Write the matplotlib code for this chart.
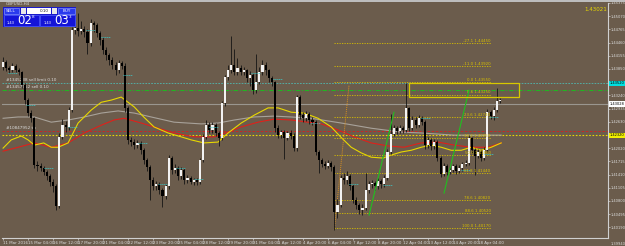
import matplotlib
matplotlib.use("Agg")
import matplotlib.pyplot as plt
from matplotlib.patches import Rectangle
import matplotlib.transforms as mtransforms

# =============================================================================
# DONNEES (GBPUSD H4, lues sur la capture)
# =============================================================================
FIRST_OPEN = 1.4390
CLOSE = [
    1.4401, 1.4387, 1.4382, 1.4392, 1.4382, 1.4378, 1.4348, 1.4313, 1.4283, 1.4271,
    1.4163, 1.4161, 1.4156, 1.4147, 1.4137, 1.4124, 1.4114, 1.4068, 1.4228, 1.4255,
    1.4251, 1.4290, 1.4475, 1.4479, 1.4472, 1.4477, 1.4470, 1.4445, 1.4491, 1.4486,
    1.4468, 1.4452, 1.4429, 1.4417, 1.4405, 1.4394, 1.4382, 1.4398, 1.4392, 1.4294,
    1.4221, 1.4216, 1.4209, 1.4214, 1.4197, 1.4174, 1.4158, 1.4128, 1.4114, 1.4119,
    1.4105, 1.4091, 1.4114, 1.4179, 1.4151, 1.4156, 1.4137, 1.4151, 1.4128, 1.4133,
    1.4124, 1.4128, 1.4124, 1.4174, 1.4228, 1.4255, 1.4244, 1.4255, 1.4237, 1.4225,
    1.4306, 1.4366, 1.4382, 1.4394, 1.4378, 1.4387, 1.4378, 1.4382, 1.4364, 1.4371,
    1.4336, 1.4355, 1.4378, 1.4394, 1.4382, 1.4364, 1.4355, 1.4248, 1.4232, 1.4239,
    1.4225, 1.4237, 1.4230, 1.4202, 1.4320, 1.4278, 1.4271, 1.4281, 1.4267, 1.4262,
    1.4193, 1.4174, 1.4165, 1.4161, 1.4168, 1.4158, 1.4054, 1.4070, 1.4133, 1.4128,
    1.4137, 1.4114, 1.4082, 1.4070, 1.4059, 1.4064, 1.4105, 1.4119, 1.4121, 1.4114,
    1.4126, 1.4119, 1.4133, 1.4193, 1.4235, 1.4248, 1.4241, 1.4248, 1.4244, 1.4294,
    1.4248, 1.4267, 1.4255, 1.4271, 1.4262, 1.4209, 1.4221, 1.4207, 1.4216, 1.4179,
    1.4142, 1.4161, 1.4147, 1.4151, 1.4161, 1.4149, 1.4156, 1.4165, 1.4168, 1.4225,
    1.4197, 1.4184, 1.4193, 1.4179, 1.4197, 1.4285, 1.4276, 1.4290, 1.4311, 1.4313,
]
HIGH = [
    1.4412, 1.4405, 1.4392, 1.4398, 1.4396, 1.4388, 1.4381, 1.4352, 1.4318, 1.4290,
    1.4275, 1.4172, 1.4168, 1.4160, 1.4152, 1.4142, 1.4130, 1.4120, 1.4236, 1.4270,
    1.4265, 1.4298, 1.4482, 1.4500, 1.4514, 1.4495, 1.4485, 1.4478, 1.4500, 1.4496,
    1.4492, 1.4472, 1.4458, 1.4435, 1.4422, 1.4412, 1.4400, 1.4405, 1.4403, 1.4398,
    1.4300, 1.4228, 1.4222, 1.4220, 1.4218, 1.4202, 1.4180, 1.4162, 1.4135, 1.4126,
    1.4123, 1.4110, 1.4120, 1.4186, 1.4183, 1.4165, 1.4160, 1.4158, 1.4155, 1.4140,
    1.4138, 1.4134, 1.4132, 1.4180, 1.4235, 1.4268, 1.4262, 1.4263, 1.4260, 1.4242,
    1.4312, 1.4372, 1.4395, 1.4462, 1.4430, 1.4410, 1.4395, 1.4390, 1.4386, 1.4380,
    1.4375, 1.4420, 1.4390, 1.4405, 1.4400, 1.4386, 1.4368, 1.4358, 1.4255, 1.4245,
    1.4243, 1.4242, 1.4245, 1.4236, 1.4325, 1.4325, 1.4285, 1.4288, 1.4286, 1.4275,
    1.4266, 1.4198, 1.4180, 1.4172, 1.4175, 1.4172, 1.4162, 1.4085, 1.4140, 1.4145,
    1.4150, 1.4142, 1.4118, 1.4088, 1.4076, 1.4072, 1.4144, 1.4126, 1.4128, 1.4126,
    1.4132, 1.4130, 1.4140, 1.4200, 1.4282, 1.4255, 1.4252, 1.4255, 1.4253, 1.4352,
    1.4298, 1.4276, 1.4275, 1.4278, 1.4276, 1.4266, 1.4228, 1.4225, 1.4222, 1.4220,
    1.4183, 1.4168, 1.4166, 1.4158, 1.4166, 1.4165, 1.4162, 1.4170, 1.4175, 1.4232,
    1.4228, 1.4202, 1.4200, 1.4198, 1.4205, 1.4292, 1.4290, 1.4298, 1.4341, 1.4318,
]
LOW = [
    1.4383, 1.4380, 1.4376, 1.4377, 1.4378, 1.4370, 1.4342, 1.4305, 1.4276, 1.4262,
    1.4155, 1.4150, 1.4148, 1.4139, 1.4128, 1.4115, 1.4101, 1.4059, 1.4063, 1.4222,
    1.4240, 1.4245, 1.4285, 1.4465, 1.4462, 1.4466, 1.4460, 1.4420, 1.4438, 1.4470,
    1.4460, 1.4440, 1.4420, 1.4405, 1.4395, 1.4385, 1.4372, 1.4375, 1.4384, 1.4285,
    1.4212, 1.4208, 1.4200, 1.4203, 1.4188, 1.4165, 1.4150, 1.4082, 1.4105, 1.4105,
    1.4096, 1.4066, 1.4085, 1.4108, 1.4143, 1.4144, 1.4128, 1.4130, 1.4120, 1.4122,
    1.4118, 1.4117, 1.4116, 1.4120, 1.4170, 1.4222, 1.4236, 1.4238, 1.4230, 1.4208,
    1.4220, 1.4300, 1.4360, 1.4376, 1.4370, 1.4372, 1.4370, 1.4370, 1.4355, 1.4345,
    1.4328, 1.4330, 1.4350, 1.4372, 1.4372, 1.4356, 1.4345, 1.4240, 1.4225, 1.4226,
    1.4176, 1.4220, 1.4222, 1.4195, 1.4196, 1.4270, 1.4262, 1.4265, 1.4258, 1.4255,
    1.4186, 1.4144, 1.4158, 1.4154, 1.4155, 1.4150, 1.4013, 1.4040, 1.4065, 1.4118,
    1.4120, 1.4105, 1.4075, 1.4062, 1.4050, 1.4048, 1.4058, 1.4098, 1.4110, 1.4106,
    1.4108, 1.4110, 1.4112, 1.4128, 1.4188, 1.4230, 1.4234, 1.4236, 1.4238, 1.4240,
    1.4242, 1.4244, 1.4248, 1.4250, 1.4255, 1.4200, 1.4202, 1.4198, 1.4200, 1.4172,
    1.4135, 1.4138, 1.4140, 1.4142, 1.4146, 1.4142, 1.4145, 1.4150, 1.4160, 1.4162,
    1.4190, 1.4140, 1.4178, 1.4172, 1.4174, 1.4192, 1.4270, 1.4268, 1.4285, 1.4306,
]

# moyennes mobiles (index de bougie, prix)
MA_YELLOW_X = [0, 2.6, 5.8, 8, 10, 13, 15.4, 17.6, 20.8, 24, 28.2, 31.4, 34.6, 37.8, 42, 45,
               48.3, 52.8, 57, 60.2, 64.3, 68.8, 72, 76.2, 80.3, 84.8, 88, 92.2, 96.3, 100.8,
               105, 108, 111.4, 114.6, 117.8, 121.6, 124.2, 127.4, 130.6, 133.8, 137, 140.2,
               143.4, 146.6, 149.8, 153, 156.2, 159.4]
MA_YELLOW_Y = [1.4202, 1.4221, 1.4230, 1.4221, 1.4209, 1.4214, 1.4204, 1.4204, 1.4214, 1.4260,
               1.4290, 1.4308, 1.4313, 1.4320, 1.4297, 1.4274, 1.4251, 1.4237, 1.4228, 1.4221,
               1.4214, 1.4216, 1.4237, 1.4260, 1.4278, 1.4295, 1.4295, 1.4285, 1.4283, 1.4271,
               1.4251, 1.4228, 1.4204, 1.4191, 1.4181, 1.4179, 1.4186, 1.4193, 1.4197, 1.4204,
               1.4209, 1.4204, 1.4197, 1.4197, 1.4204, 1.4197, 1.4204, 1.4214]
MA_RED_X = [0, 4.8, 10, 15.4, 20.8, 26, 31.4, 35.5, 38.7, 44.2, 49.6, 54.7, 61.1, 67.5, 72,
            76.2, 81.6, 86.7, 92.2, 97.6, 101.8, 107.2, 112.3, 117.8, 123.2, 128.3, 133.8,
            139.2, 144.3, 149.8, 155.2, 159.4]
MA_RED_Y = [1.4195, 1.4204, 1.4214, 1.4204, 1.4214, 1.4237, 1.4255, 1.4267, 1.4271, 1.4260,
            1.4248, 1.4237, 1.4228, 1.4228, 1.4239, 1.4251, 1.4262, 1.4269, 1.4267, 1.4262,
            1.4258, 1.4244, 1.4228, 1.4214, 1.4207, 1.4204, 1.4214, 1.4216, 1.4209, 1.4204,
            1.4204, 1.4214]
MA_GRAY_X = [0, 4.8, 10, 15.4, 20.8, 26, 31.4, 36.8, 42, 47.4, 54.7, 63.4, 68.8, 74, 80.3,
             86.7, 92.2, 98.6, 108.2, 117.8, 127.4, 133.8, 144.3, 159.4]
MA_GRAY_Y = [1.4271, 1.4274, 1.4274, 1.4262, 1.4267, 1.4274, 1.4283, 1.4288, 1.4283, 1.4274,
             1.4262, 1.4258, 1.4260, 1.4267, 1.4274, 1.4276, 1.4274, 1.4271, 1.4260, 1.4248,
             1.4239, 1.4237, 1.4232, 1.4232]

# petits traits cyan (index de depart, prix)
DASH_X = [1.6, 7.4, 13.1, 20.8, 26.6, 31.4, 38.4, 43.2, 49.6, 55.4, 61.1, 65.9, 79.4, 86.4,
          98.6, 110.7, 121.6, 133.8, 146.6, 153.9, 155.5]
DASH_Y = [1.4375, 1.4301, 1.4156, 1.4251, 1.4475, 1.4459, 1.4371, 1.4214, 1.4119, 1.4156,
          1.4131, 1.4251, 1.4375, 1.4361, 1.4260, 1.4119, 1.4117, 1.4271, 1.4151, 1.4188,
          1.4274]

# niveaux de Fibonacci
FIB_LEVELS = [1.4445, 1.4392, 1.4355, 1.4325, 1.4274, 1.4225, 1.4186, 1.4144, 1.4082,
              1.4052, 1.4017]
FIB_NAMES = ["-27.1", "-11.0", "0.0", "8.6", "23.6", "38.2", "50.0", "61.8", "78.6",
             "88.6", "100.0"]
FIB_START, FIB_END = 106, 156

# lignes d'ordres
SELL_LIMIT = 1.4352
SELL_PRICE = 1.4336
BID = 1.4304
TP_PRICE = 1.4241
ALERT_PRICE = 1.4232

PRICE_TICKS = [1.45375, 1.45070, 1.44765, 1.44460, 1.44155, 1.43850, 1.43545, 1.43240,
               1.42935, 1.42630, 1.42325, 1.42020, 1.41715, 1.41410, 1.41105, 1.40800,
               1.40495, 1.40190]
PRICE_MIN_LABEL = "1.39940"
DATE_POS = [0, 8, 16, 24, 32, 40, 48, 56, 64, 72, 80, 88, 96, 104, 112, 120, 128, 136, 144, 152]
DATE_LABELS = ["11 Mar 2016", "15 Mar 04:00", "16 Mar 12:00", "17 Mar 20:00", "21 Mar 04:00",
               "22 Mar 12:00", "23 Mar 20:00", "25 Mar 04:00", "28 Mar 12:00", "29 Mar 20:00",
               "31 Mar 04:00", "1 Apr 12:00", "4 Apr 20:00", "6 Apr 04:00", "7 Apr 12:00",
               "8 Apr 20:00", "12 Apr 04:00", "13 Apr 12:00", "14 Apr 20:00", "18 Apr 04:00"]

BG = "#6b5c4c"
TXT = "#dcdcdc"
FIB_COL = "#d8c000"
FONT = ["Liberation Sans Narrow", "DejaVu Sans"]


def main():
    plt.rcParams["font.family"] = FONT
    fig = plt.figure(figsize=(6.25, 2.46), dpi=100, facecolor=BG)
    ax = fig.add_axes([2 / 625, 8 / 246, 606 / 625, 235 / 246], facecolor=BG)
    ax.set_xlim(-0.35, 193.57)
    ax.set_ylim(1.39942, 1.45371)

    # bougies
    opens = [FIRST_OPEN] + CLOSE[:-1]
    idx = list(range(len(CLOSE)))
    ax.vlines(idx, LOW, HIGH, color="#151515", linewidth=0.6, zorder=3)
    for i, (o, c) in enumerate(zip(opens, CLOSE)):
        col = "#f2f2f2" if c >= o else "#000000"
        bottom = min(o, c)
        h = max(abs(c - o), 0.00008)
        ax.add_patch(Rectangle((i - 0.33, bottom), 0.66, h, facecolor=col,
                               edgecolor="none", zorder=4))

    # moyennes mobiles
    ax.plot(MA_GRAY_X, MA_GRAY_Y, color="#a8a29a", linewidth=0.8, zorder=2)
    ax.plot(MA_RED_X, MA_RED_Y, color="#e0201a", linewidth=0.8, zorder=2)
    ax.plot(MA_YELLOW_X, MA_YELLOW_Y, color="#e8d800", linewidth=0.8, zorder=2)

    # petits traits cyan
    ax.hlines(DASH_Y, DASH_X, [x + 2.8 for x in DASH_X], colors="#3cc8c8",
              linestyles=(0, (1, 1)), linewidth=0.7, zorder=5)

    # lignes horizontales
    ax.axhline(SELL_LIMIT, color="#50b8b0", linestyle=(0, (2, 1.5)), linewidth=0.6, zorder=1)
    ax.axhline(SELL_PRICE, color="#22b422", linestyle=(0, (4, 1.5, 1, 1.5)), linewidth=0.8, zorder=1)
    ax.axhline(BID, color="#9a968f", linewidth=0.8, zorder=1)
    ax.axhline(TP_PRICE, color="#d42020", linestyle=(0, (3, 2)), linewidth=0.6, zorder=1)
    ax.axhline(ALERT_PRICE, color="#e8d800", linestyle=(0, (1.5, 1.5)), linewidth=0.8, zorder=1)
    ax.text(1, SELL_LIMIT + 0.0002, "#1345238 sell limit 0.10", color=TXT, fontsize=3.0, va="bottom")
    ax.text(1, SELL_PRICE + 0.0002, "#13457952 sell 0.10", color=TXT, fontsize=3.0, va="bottom")
    ax.text(1, TP_PRICE + 0.0002, "#10847952 tp", color=TXT, fontsize=3.0, va="bottom")

    # Fibonacci
    ax.hlines(FIB_LEVELS, FIB_START, FIB_END, colors=FIB_COL, linestyles=(0, (1.5, 1.5)),
              linewidth=0.6, zorder=2)
    for lv, name in zip(FIB_LEVELS, FIB_NAMES):
        ax.text(FIB_END, lv + 0.0001, f"{name} {lv:.5f}", color=FIB_COL, fontsize=2.8,
                ha="right", va="bottom", zorder=6)
    ax.plot([106, 110.7], [1.4013, 1.4348], color="#d89020", linestyle=(0, (1, 1)),
            linewidth=0.7, zorder=2)

    # canaux verts
    ax.plot([117.1, 125.1], [1.4047, 1.4285], color="#20c020", linewidth=0.8, zorder=6)
    ax.plot([141.1, 149.1], [1.4098, 1.4336], color="#20c020", linewidth=0.8, zorder=6)

    # rectangle jaune
    ax.add_patch(Rectangle((129.9, 1.4320), 35.2, 0.0032, facecolor="none",
                           edgecolor="#d8c800", linewidth=0.9, zorder=6))

    # axes
    for s in ["top", "left"]:
        ax.spines[s].set_visible(False)
    for s in ["right", "bottom"]:
        ax.spines[s].set_color("#d0d0d0")
        ax.spines[s].set_linewidth(0.8)
    ax.yaxis.tick_right()
    ax.set_yticks(PRICE_TICKS)
    ax.set_yticklabels([f"{p:.5f}" for p in PRICE_TICKS])
    ax.tick_params(axis="y", colors="#d0d0d0", labelcolor=TXT, labelsize=2.6,
                   length=1.5, width=0.5, pad=0.4)
    ax.set_xticks(DATE_POS)
    ax.set_xticklabels(DATE_LABELS)
    for lab in ax.get_xticklabels():
        lab.set_horizontalalignment("left")
    ax.tick_params(axis="x", colors="#d0d0d0", labelcolor=TXT, labelsize=2.9,
                   length=1.5, width=0.5, pad=0.5)
    fig.text(611 / 625, 1 - 244 / 246, PRICE_MIN_LABEL, color=TXT, fontsize=2.6,
             ha="left", va="center")

    # boites de prix a droite
    tr = mtransforms.blended_transform_factory(ax.transAxes, ax.transData)
    for price, txt, fc in [(SELL_LIMIT, "1.43520", "#00e0e0"), (BID, "1.43028", "#ffffff"),
                           (ALERT_PRICE, "1.42320", "#f0f000")]:
        ax.text(1.003, price, txt, transform=tr, fontsize=2.6, color="black", va="center",
                ha="left", clip_on=False, zorder=10,
                bbox=dict(boxstyle="square,pad=0.15", facecolor=fc, edgecolor="none"))
    ax.text(0.9985, 0.985, "1.43021", transform=ax.transAxes, color="#e8d800", fontsize=4.0,
            ha="right", va="top")

    # en-tete et panneau de trading
    fig.patches.append(Rectangle((0, 244 / 246), 1, 2 / 246, transform=fig.transFigure,
                                 facecolor="#bdbdbd", edgecolor="none"))
    fig.text(6 / 625, 1 - 4 / 246, "GBPUSD,H4", color=TXT, fontsize=3.0, va="center")

    def px_rect(x, y, w, h, fc, ec="none"):
        fig.patches.append(Rectangle((x / 625, 1 - (y + h) / 246), w / 625, h / 246,
                                     transform=fig.transFigure, facecolor=fc, edgecolor=ec,
                                     linewidth=0.5, zorder=10))

    px_rect(3, 7, 73, 20, "#1a1ac8")
    px_rect(4, 8, 15, 6, "#2a3aee", "#8090ff")
    px_rect(58, 8, 17, 6, "#2a3aee", "#8090ff")
    px_rect(21, 8, 5, 6, "#e8e8e8")
    px_rect(27, 8, 24, 6, "#ffffff")
    px_rect(52, 8, 5, 6, "#e8e8e8")
    px_rect(4, 15, 35, 11, "#1414d8", "#5060ff")
    px_rect(40, 15, 35, 11, "#1414d8", "#5060ff")

    def px_text(x, y, s, size, col="white", ha="left"):
        fig.text(x / 625, 1 - y / 246, s, color=col, fontsize=size, ha=ha, va="center",
                 zorder=11)

    px_text(11, 11, "SELL", 3.0, ha="center")
    px_text(66.5, 11, "BUY", 3.0, ha="center")
    px_text(49, 11, "0.10", 3.0, col="#202020", ha="right")
    px_text(7, 23, "1.43", 2.6)
    px_text(17, 20.8, "02", 8.5)
    px_text(32, 17.5, "8", 3.0)
    px_text(44, 23, "1.43", 2.6)
    px_text(54, 20.8, "03", 8.5)
    px_text(69, 17.5, "3", 3.0)

    fig.savefig("out.png", dpi=100, facecolor=BG)


if __name__ == "__main__":
    main()
